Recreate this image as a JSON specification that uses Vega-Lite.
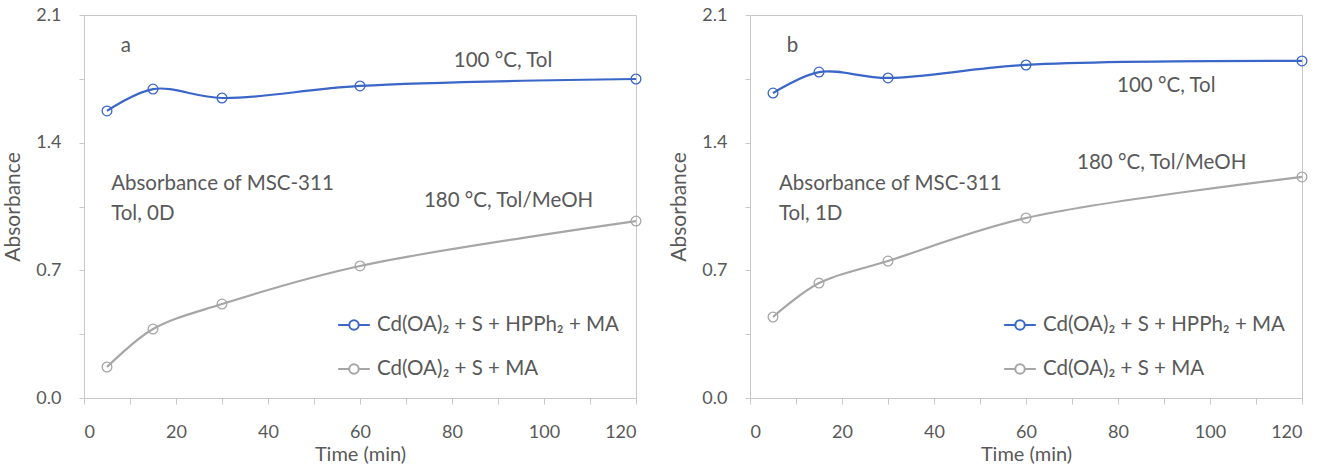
{
  "$schema": "https://vega.github.io/schema/vega-lite/v6.json",
  "background": "white",
  "padding": {"left": 2, "top": 5, "right": 10, "bottom": 0},
  "spacing": 24,
  "datasets": {
    "series": [
      {"panel": "a", "series": "Cd(OA)₂ + S + HPPh₂ + MA", "t": 5, "v": 1.574},
      {"panel": "a", "series": "Cd(OA)₂ + S + HPPh₂ + MA", "t": 15, "v": 1.694},
      {"panel": "a", "series": "Cd(OA)₂ + S + HPPh₂ + MA", "t": 30, "v": 1.645},
      {"panel": "a", "series": "Cd(OA)₂ + S + HPPh₂ + MA", "t": 60, "v": 1.711},
      {"panel": "a", "series": "Cd(OA)₂ + S + HPPh₂ + MA", "t": 120, "v": 1.749},
      {"panel": "a", "series": "Cd(OA)₂ + S + MA", "t": 5, "v": 0.17},
      {"panel": "a", "series": "Cd(OA)₂ + S + MA", "t": 15, "v": 0.378},
      {"panel": "a", "series": "Cd(OA)₂ + S + MA", "t": 30, "v": 0.515},
      {"panel": "a", "series": "Cd(OA)₂ + S + MA", "t": 60, "v": 0.724},
      {"panel": "a", "series": "Cd(OA)₂ + S + MA", "t": 120, "v": 0.97},
      {"panel": "b", "series": "Cd(OA)₂ + S + HPPh₂ + MA", "t": 5, "v": 1.672},
      {"panel": "b", "series": "Cd(OA)₂ + S + HPPh₂ + MA", "t": 15, "v": 1.787},
      {"panel": "b", "series": "Cd(OA)₂ + S + HPPh₂ + MA", "t": 30, "v": 1.755},
      {"panel": "b", "series": "Cd(OA)₂ + S + HPPh₂ + MA", "t": 60, "v": 1.826},
      {"panel": "b", "series": "Cd(OA)₂ + S + HPPh₂ + MA", "t": 120, "v": 1.848},
      {"panel": "b", "series": "Cd(OA)₂ + S + MA", "t": 5, "v": 0.444},
      {"panel": "b", "series": "Cd(OA)₂ + S + MA", "t": 15, "v": 0.63},
      {"panel": "b", "series": "Cd(OA)₂ + S + MA", "t": 30, "v": 0.751},
      {"panel": "b", "series": "Cd(OA)₂ + S + MA", "t": 60, "v": 0.987},
      {"panel": "b", "series": "Cd(OA)₂ + S + MA", "t": 120, "v": 1.212}
    ],
    "notes": [
      {"panel": "a", "t": 8, "v": 1.93, "label": "a"},
      {"panel": "a", "t": 80.4, "v": 1.85, "label": "100 °C, Tol"},
      {"panel": "a", "t": 73.9, "v": 1.08, "label": "180 °C, Tol/MeOH"},
      {"panel": "a", "t": 5.9, "v": 1.173, "label": "Absorbance of MSC-311"},
      {"panel": "a", "t": 5.9, "v": 1.009, "label": "Tol, 0D"},
      {"panel": "b", "t": 8, "v": 1.93, "label": "b"},
      {"panel": "b", "t": 79.8, "v": 1.71, "label": "100 °C, Tol"},
      {"panel": "b", "t": 71.1, "v": 1.289, "label": "180 °C, Tol/MeOH"},
      {"panel": "b", "t": 6.3, "v": 1.173, "label": "Absorbance of MSC-311"},
      {"panel": "b", "t": 6.3, "v": 1.009, "label": "Tol, 1D"}
    ]
  },
  "resolve": {"legend": {"color": "independent"}},
  "hconcat": [
    {
      "width": 552,
      "height": 383,
      "encoding": {
        "x": {
          "field": "t", "type": "quantitative", "title": "Time (min)",
          "scale": {"domain": [0, 120], "nice": false, "zero": false},
          "axis": {"values": [0, 10, 20, 30, 40, 50, 60, 70, 80, 90, 100, 110, 120], "labelExpr": "datum.value % 20 == 0 ? datum.label : ''", "tickSize": 6, "labelPadding": 19, "titlePadding": 3, "titleFontSize": 20, "labelFontSize": 18}
        },
        "y": {
          "field": "v", "type": "quantitative", "title": "Absorbance",
          "scale": {"domain": [0, 2.1], "nice": false},
          "axis": {"values": [0, 0.35, 0.7, 1.05, 1.4, 1.75, 2.1], "labelExpr": "round(datum.value * 100) % 70 == 0 ? format(datum.value, '.1f') : ''", "tickSize": 5, "labelPadding": 18, "titlePadding": 12, "titleFontSize": 21, "labelFontSize": 18}
        }
      },
      "layer": [
        {
          "data": {"name": "series"},
          "transform": [{"filter": "datum.panel == 'a'"}],
          "mark": {"type": "line", "interpolate": "catmull-rom", "strokeWidth": 2.2},
          "encoding": {
            "color": {"field": "series", "type": "nominal", "title": null,
              "scale": {"domain": ["Cd(OA)₂ + S + HPPh₂ + MA", "Cd(OA)₂ + S + MA"], "range": ["#3A66C8", "#A6A6A6"]},
              "legend": {"orient": "none", "legendX": 253, "legendY": 293}}
          }
        },
        {
          "data": {"name": "series"},
          "transform": [{"filter": "datum.panel == 'a'"}],
          "mark": {"type": "point", "filled": false, "size": 95, "strokeWidth": 1.3, "opacity": 1},
          "encoding": {
            "color": {"field": "series", "type": "nominal", "title": null,
              "scale": {"domain": ["Cd(OA)₂ + S + HPPh₂ + MA", "Cd(OA)₂ + S + MA"], "range": ["#3A66C8", "#A6A6A6"]},
              "legend": {"orient": "none", "legendX": 253, "legendY": 293}}
          }
        },
        {
          "data": {"name": "notes"},
          "transform": [{"filter": "datum.panel == 'a'"}],
          "mark": {"type": "text", "align": "left", "baseline": "middle", "fontSize": 20.5, "color": "#595959", "font": "Lato"},
          "encoding": {"text": {"field": "label", "type": "nominal"}}
        }
      ]
    },
    {
      "width": 552,
      "height": 383,
      "encoding": {
        "x": {
          "field": "t", "type": "quantitative", "title": "Time (min)",
          "scale": {"domain": [0, 120], "nice": false, "zero": false},
          "axis": {"values": [0, 10, 20, 30, 40, 50, 60, 70, 80, 90, 100, 110, 120], "labelExpr": "datum.value % 20 == 0 ? datum.label : ''", "tickSize": 6, "labelPadding": 19, "titlePadding": 3, "titleFontSize": 20, "labelFontSize": 18}
        },
        "y": {
          "field": "v", "type": "quantitative", "title": "Absorbance",
          "scale": {"domain": [0, 2.1], "nice": false},
          "axis": {"values": [0, 0.35, 0.7, 1.05, 1.4, 1.75, 2.1], "labelExpr": "round(datum.value * 100) % 70 == 0 ? format(datum.value, '.1f') : ''", "tickSize": 5, "labelPadding": 18, "titlePadding": 12, "titleFontSize": 21, "labelFontSize": 18}
        }
      },
      "layer": [
        {
          "data": {"name": "series"},
          "transform": [{"filter": "datum.panel == 'b'"}],
          "mark": {"type": "line", "interpolate": "catmull-rom", "strokeWidth": 2.2},
          "encoding": {
            "color": {"field": "series", "type": "nominal", "title": null,
              "scale": {"domain": ["Cd(OA)₂ + S + HPPh₂ + MA", "Cd(OA)₂ + S + MA"], "range": ["#3A66C8", "#A6A6A6"]},
              "legend": {"orient": "none", "legendX": 253, "legendY": 293}}
          }
        },
        {
          "data": {"name": "series"},
          "transform": [{"filter": "datum.panel == 'b'"}],
          "mark": {"type": "point", "filled": false, "size": 95, "strokeWidth": 1.3, "opacity": 1},
          "encoding": {
            "color": {"field": "series", "type": "nominal", "title": null,
              "scale": {"domain": ["Cd(OA)₂ + S + HPPh₂ + MA", "Cd(OA)₂ + S + MA"], "range": ["#3A66C8", "#A6A6A6"]},
              "legend": {"orient": "none", "legendX": 253, "legendY": 293}}
          }
        },
        {
          "data": {"name": "notes"},
          "transform": [{"filter": "datum.panel == 'b'"}],
          "mark": {"type": "text", "align": "left", "baseline": "middle", "fontSize": 20.5, "color": "#595959", "font": "Lato"},
          "encoding": {"text": {"field": "label", "type": "nominal"}}
        }
      ]
    }
  ],
  "config": {
    "font": "Lato",
    "view": {"stroke": "#C8C8C8", "strokeWidth": 1},
    "axis": {
      "grid": false,
      "labelFont": "Lato", "labelFontSize": 18, "labelColor": "#595959",
      "titleFont": "Lato", "titleFontSize": 20, "titleColor": "#595959", "titleFontWeight": "normal",
      "domainColor": "#C8C8C8", "tickColor": "#C8C8C8"
    },
    "legend": {
      "labelFont": "Lato", "labelFontSize": 20.5, "labelColor": "#595959", "labelLimit": 400,
      "symbolType": "M-1,0H-0.3A0.3,0.3 0 1,1 0.3,0A0.3,0.3 0 1,1 -0.3,0M0.3,0H1",
      "symbolSize": 1000, "symbolStrokeWidth": 2, "symbolFillColor": "transparent",
      "rowPadding": 16, "labelOffset": 6, "padding": 0
    }
  }
}
